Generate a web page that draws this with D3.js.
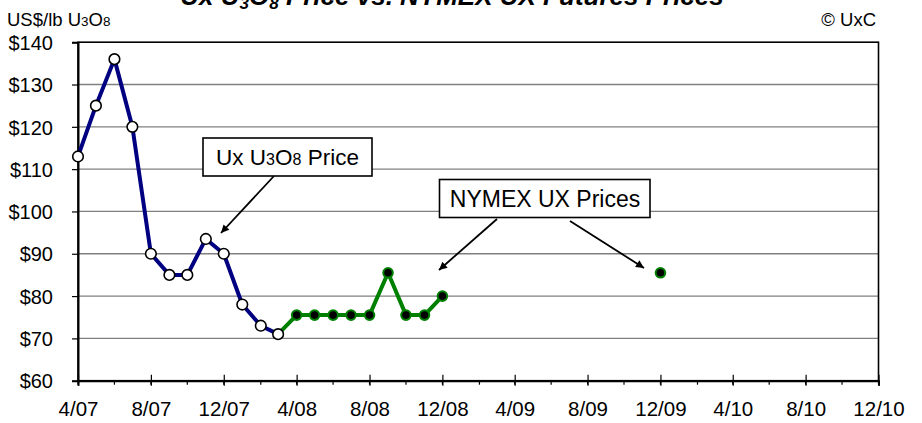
<!DOCTYPE html>
<html><head><meta charset="utf-8">
<script src="https://cdn.jsdelivr.net/npm/d3@7"></script>
<style>body{margin:0;background:#fff;} svg{display:block;font-family:Arial,"Liberation Sans",sans-serif;}</style>
</head><body><svg id="c" width="922" height="423"></svg>
<script>
// Data
const uxDates = ["2007-04","2007-05","2007-06","2007-07","2007-08","2007-09","2007-10","2007-11","2007-12","2008-01","2008-02","2008-03"];
const uxPrices = [113, 125, 136, 120, 90, 85, 85, 93.5, 90, 78, 73, 71];
const nymexDates = ["2008-04","2008-05","2008-06","2008-07","2008-08","2008-09","2008-10","2008-11","2008-12","2009-12"];
const nymexPrices = [75.5, 75.5, 75.5, 75.5, 75.5, 85.5, 75.5, 75.5, 80, 85.5];
const yTicks = [60, 70, 80, 90, 100, 110, 120, 130, 140];
const xTickLabels = ["4/07","8/07","12/07","4/08","8/08","12/08","4/09","8/09","12/09","4/10","8/10","12/10"];

const parse = d3.timeParse("%Y-%m");
const svg = d3.select("#c");
const L = 78, R = 878.5, T = 42.2, B = 380.7;
const start = parse("2007-04"), end = parse("2010-12");
const x = d3.scaleTime().domain([start, end]).range([L, R]);
const y = d3.scaleLinear().domain([60, 140]).range([B, T]);

// gridlines
svg.append("g").selectAll("line").data(yTicks.filter(v => v > 60 && v < 140)).join("line")
  .attr("x1", L).attr("x2", R).attr("y1", d => y(d)).attr("y2", d => y(d))
  .attr("stroke", "#808080").attr("stroke-width", 1.3);

// plot border
svg.append("rect").attr("x", L).attr("y", T).attr("width", R - L).attr("height", B - T)
  .attr("fill", "none").attr("stroke", "#000").attr("stroke-width", 1.6);

// y axis
const yAxis = svg.append("g").attr("transform", `translate(${L},0)`)
  .call(d3.axisLeft(y).tickValues(yTicks).tickFormat(d => "$" + d).tickSize(6).tickPadding(19));
yAxis.select(".domain").attr("stroke-width", 2);
yAxis.selectAll("line").attr("stroke-width", 1.2);
yAxis.selectAll("text").attr("font-size", 20).attr("font-family", "Arial,'Liberation Sans',sans-serif").attr("fill", "#000").attr("dy", "0.36em");

// x axis: major ticks every 4 months (crossing), minor every 2 months (outside)
const endPlus = d3.timeMonth.offset(end, 1);
const majorDates = d3.timeMonth.range(start, endPlus, 4);
const minorDates = d3.timeMonth.range(start, endPlus, 2);
const xAxis = svg.append("g").attr("transform", `translate(0,${B})`)
  .call(d3.axisBottom(x).tickValues(majorDates).tickFormat((d, i) => xTickLabels[i]).tickSize(5).tickPadding(16));
xAxis.select(".domain").attr("stroke-width", 2);
xAxis.selectAll(".tick line").attr("y1", -6).attr("stroke-width", 1.2);
xAxis.selectAll("text").attr("font-size", 20.5).attr("font-family", "Arial,'Liberation Sans',sans-serif").attr("fill", "#000");
svg.append("g").selectAll("line").data(minorDates).join("line")
  .attr("x1", d => x(d)).attr("x2", d => x(d)).attr("y1", B).attr("y2", B + 4)
  .attr("stroke", "#000").attr("stroke-width", 1.2);

// series
const ux = uxDates.map((d, i) => ({ d: parse(d), v: uxPrices[i] }));
const ny = nymexDates.map((d, i) => ({ d: parse(d), v: nymexPrices[i] }));
const line = d3.line().x(p => x(p.d)).y(p => y(p.v));
const nyLine = [ux[ux.length - 1]].concat(ny.slice(0, 9));
svg.append("path").attr("d", line(nyLine)).attr("fill", "none").attr("stroke", "#008000").attr("stroke-width", 4).attr("stroke-linejoin", "round");
svg.append("path").attr("d", line(ux)).attr("fill", "none").attr("stroke", "#000080").attr("stroke-width", 4).attr("stroke-linejoin", "round");
svg.append("g").selectAll("circle").data(ny).join("circle")
  .attr("cx", p => x(p.d)).attr("cy", p => y(p.v)).attr("r", 4.8)
  .attr("fill", "#000").attr("stroke", "#008000").attr("stroke-width", 2);
svg.append("g").selectAll("circle").data(ux).join("circle")
  .attr("cx", p => x(p.d)).attr("cy", p => y(p.v)).attr("r", 5.3)
  .attr("fill", "#fff").attr("stroke", "#000").attr("stroke-width", 1.6);

// arrow marker
svg.append("defs").append("marker").attr("id", "ah").attr("viewBox", "0 0 10 10")
  .attr("refX", 10).attr("refY", 5).attr("markerWidth", 10).attr("markerHeight", 8)
  .attr("markerUnits", "userSpaceOnUse").attr("orient", "auto")
  .append("path").attr("d", "M0,0L10,5L0,10z").attr("fill", "#000");

function arrow(x1, y1, x2, y2) {
  svg.append("line").attr("x1", x1).attr("y1", y1).attr("x2", x2).attr("y2", y2)
    .attr("stroke", "#000").attr("stroke-width", 1.8).attr("marker-end", "url(#ah)");
}
arrow(274, 176, 221, 233);
arrow(497, 219, 439, 270);
arrow(570, 221, 644, 268);

// annotation boxes
svg.append("rect").attr("x", 203).attr("y", 138).attr("width", 169).attr("height", 38)
  .attr("fill", "#fff").attr("stroke", "#000").attr("stroke-width", 1.6);
const t1 = svg.append("text").attr("x", 287.5).attr("y", 165).attr("text-anchor", "middle").attr("font-size", 22.5);
t1.append("tspan").text("Ux U");
t1.append("tspan").attr("font-size", 16).text("3");
t1.append("tspan").text("O");
t1.append("tspan").attr("font-size", 16).text("8");
t1.append("tspan").text(" Price");

svg.append("rect").attr("x", 439.5).attr("y", 179.5).attr("width", 210.5).attr("height", 38)
  .attr("fill", "#fff").attr("stroke", "#000").attr("stroke-width", 1.6);
svg.append("text").attr("x", 545).attr("y", 206.5).attr("text-anchor", "middle").attr("font-size", 23)
  .text("NYMEX UX Prices");

// header texts
const yl = svg.append("text").attr("x", 7).attr("y", 26).attr("font-size", 18.5);
yl.append("tspan").text("US$/lb U");
yl.append("tspan").attr("font-size", 13.5).text("3");
yl.append("tspan").text("O");
yl.append("tspan").attr("font-size", 13.5).text("8");
svg.append("text").attr("x", 876).attr("y", 26).attr("text-anchor", "end").attr("font-size", 18.5).text("© UxC");

const tt = svg.append("text").attr("x", 452).attr("y", 5).attr("text-anchor", "middle")
  .attr("font-size", 26).attr("font-weight", "bold").attr("font-style", "italic");
tt.append("tspan").text("Ux U");
tt.append("tspan").attr("font-size", 17).attr("dy", 4).text("3");
tt.append("tspan").attr("dy", -4).text("O");
tt.append("tspan").attr("font-size", 17).attr("dy", 4).text("8");
tt.append("tspan").attr("dy", -4).text(" Price vs. NYMEX UX Futures Prices");
</script></body></html>
